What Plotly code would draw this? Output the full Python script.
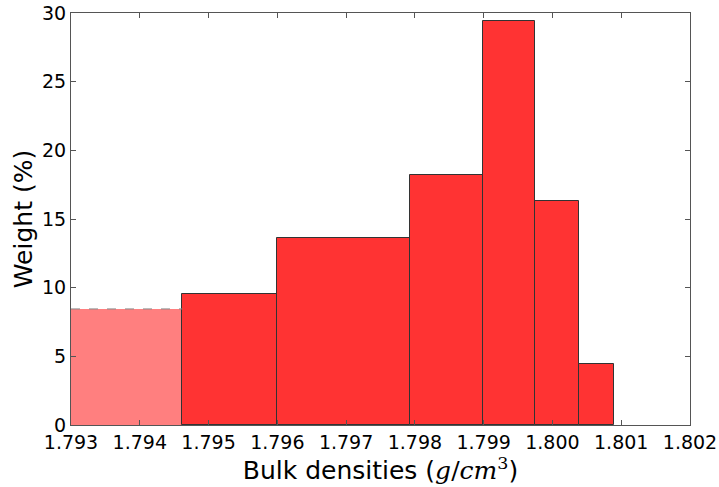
import plotly.graph_objects as go

# Histogram bin edges (g/cm^3) and weight per bin (%)
bin_edges = [1.79462, 1.79599, 1.79793, 1.79899, 1.79975, 1.80038, 1.80090]
weights = [9.52, 13.62, 18.2, 29.4, 16.33, 4.46]

# Partial first bin, running off the left side of the axis
partial_edges = [1.7930, 1.79462]
partial_weight = 8.45

x_ticks = [1.793, 1.794, 1.795, 1.796, 1.797, 1.798, 1.799, 1.800, 1.801, 1.802]
y_ticks = [0, 5, 10, 15, 20, 25, 30]

centers = [(a + b) / 2 for a, b in zip(bin_edges[:-1], bin_edges[1:])]
widths = [b - a for a, b in zip(bin_edges[:-1], bin_edges[1:])]

fig = go.Figure()

# Faded partial bin without outline, dashed top edge
fig.add_trace(go.Bar(
    x=[(partial_edges[0] + partial_edges[1]) / 2],
    y=[partial_weight],
    width=[partial_edges[1] - partial_edges[0]],
    marker=dict(color="#FF7F7F", line=dict(width=0)),
    showlegend=False,
))
fig.add_trace(go.Scatter(
    x=partial_edges,
    y=[partial_weight, partial_weight],
    mode="lines",
    line=dict(color="#888888", width=1, dash="dash"),
    showlegend=False,
))

# Full bins
fig.add_trace(go.Bar(
    x=centers,
    y=weights,
    width=widths,
    marker=dict(color="#FF3333", line=dict(color="#333333", width=1)),
    showlegend=False,
))

font_family = "DejaVu Sans"
math_span = '<span style="font-family:\'DejaVu Serif\'"><i>g</i>/<i>cm</i><sup>3</sup></span>'

fig.update_layout(
    width=719,
    height=487,
    margin=dict(l=71, r=29, t=13, b=62),
    paper_bgcolor="white",
    plot_bgcolor="white",
    bargap=0,
    font=dict(family=font_family, color="black", size=19),
    xaxis=dict(
        range=[1.793, 1.802],
        tickvals=x_ticks,
        ticktext=[f"{v:.3f}" for v in x_ticks],
        ticks="inside",
        ticklen=5,
        tickcolor="#555555",
        showline=True,
        linecolor="#555555",
        linewidth=1.2,
        mirror="ticks",
        showgrid=False,
        zeroline=False,
        automargin=False,
        tickfont=dict(size=19),
        title=dict(
            text=f"Bulk densities ({math_span})",
            font=dict(size=25),
            standoff=4,
        ),
    ),
    yaxis=dict(
        range=[0, 30],
        tickvals=y_ticks,
        ticks="inside",
        ticklen=5,
        tickcolor="#555555",
        showline=True,
        linecolor="#555555",
        linewidth=1.2,
        mirror="ticks",
        showgrid=False,
        zeroline=False,
        automargin=False,
        tickfont=dict(size=19),
        title=dict(text="Weight (%)", font=dict(size=25), standoff=2),
    ),
)

fig.write_html("out.html")
